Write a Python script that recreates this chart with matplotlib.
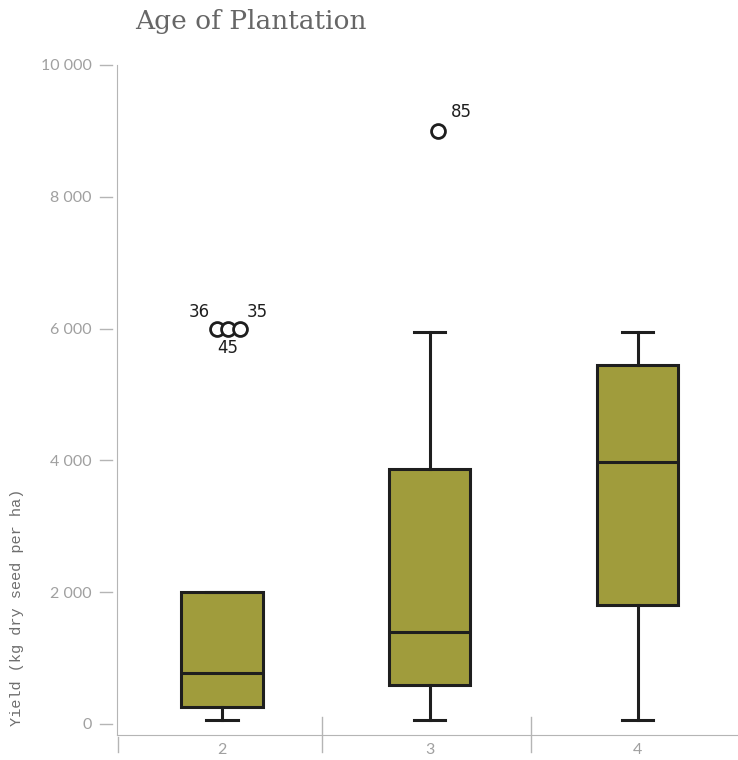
import matplotlib
matplotlib.use("Agg")
import matplotlib.pyplot as plt
import matplotlib.transforms as mtransforms

# data
ages = ["2", "3", "4"]
whislo = [60, 60, 60]
q1 = [260, 590, 1800]
med = [780, 1400, 3970]
q3 = [2000, 3870, 5450]
whishi = [2000, 5950, 5950]
outlier_vals = [[6000, 6000, 6000], [9000], []]
outlier_ids = [["36", "45", "35"], ["85"], []]

yticks = [0, 2000, 4000, 6000, 8000, 10000]
ytick_labels = ["0", "2 000", "4 000", "6 000", "8 000", "10 000"]

box_color = "#a09c3c"
line_color = "#1e1e1e"
axis_grey = "#b5b5b5"
text_grey = "#a0a0a0"

fig = plt.figure(figsize=(7.38, 7.6), dpi=100)
ax = fig.add_axes([117 / 738, 25 / 760, 1 - 117 / 738, 670 / 760])

stats = []
for i in range(len(ages)):
    stats.append({"whislo": whislo[i], "q1": q1[i], "med": med[i],
                  "q3": q3[i], "whishi": whishi[i], "fliers": [], "label": ages[i]})

ax.bxp(stats, positions=[1, 2, 3], widths=0.39, capwidths=0.15,
       showfliers=False, patch_artist=True,
       boxprops=dict(facecolor=box_color, edgecolor=line_color, linewidth=2.2),
       medianprops=dict(color=line_color, linewidth=2.2),
       whiskerprops=dict(color=line_color, linewidth=2.2),
       capprops=dict(color=line_color, linewidth=2.2))

# outliers, spread sideways when they overlap
for i, vals in enumerate(outlier_vals):
    n = len(vals)
    for j, v in enumerate(vals):
        x = i + 1 + (j - (n - 1) / 2) * 0.055 + (0.03 if n > 1 else 0.04)
        ax.plot(x, v, "o", ms=10, mfc="white", mec=line_color, mew=2, zorder=5)
    if n == 3:
        xc = i + 1 + 0.03
        ax.text(xc - 0.055 - 0.035, vals[0] + 120, outlier_ids[i][0], ha="right", va="bottom", fontsize=12, color=line_color)
        ax.text(xc, vals[1] - 160, outlier_ids[i][1], ha="center", va="top", fontsize=12, color=line_color)
        ax.text(xc + 0.055 + 0.035, vals[2] + 120, outlier_ids[i][2], ha="left", va="bottom", fontsize=12, color=line_color)
    elif n == 1:
        ax.text(i + 1 + 0.04 + 0.06, vals[0] + 150, outlier_ids[i][0], ha="left", va="bottom", fontsize=12, color=line_color)

ax.set_xlim(0.495, 3.482)
ax.set_ylim(-167, 10000)

for s in ["top", "right"]:
    ax.spines[s].set_visible(False)
ax.spines["left"].set_color(axis_grey)
ax.spines["bottom"].set_color(axis_grey)

ax.set_yticks(yticks)
ax.set_yticklabels(ytick_labels, fontsize=11.5, color=text_grey, family="Lato")
ax.tick_params(axis="y", length=0, pad=18)
ax.set_xticks([1, 2, 3])
ax.set_xticklabels(ages, fontsize=11.5, color=text_grey, family="Lato")
ax.tick_params(axis="x", length=0, pad=6)

# short y tick marks, detached from the axis
ty = mtransforms.blended_transform_factory(ax.transAxes, ax.transData)
for v in yticks:
    ax.plot([-17 / 621, -5 / 621], [v, v], color=axis_grey, lw=1, transform=ty, clip_on=False)

# category separators on the x axis
tx = mtransforms.blended_transform_factory(ax.transData, ax.transAxes)
ax.plot([0.5, 0.5], [-0.003, -0.025], color=axis_grey, lw=1, transform=tx, clip_on=False)
for b in [1.48, 2.485]:
    ax.plot([b, b], [0.027, -0.025], color=axis_grey, lw=1, transform=tx, clip_on=False)

ax.set_ylabel("Yield (kg dry seed per ha)", family="Liberation Mono", fontsize=11, color="#6e6e6e")
ax.yaxis.set_label_coords(-0.15, 0.19)

fig.text(135 / 738, 1 - 22 / 760, "Age of Plantation", family="DejaVu Serif",
         fontsize=19, color="#666666", ha="left", va="center")

fig.savefig("out.png", dpi=100)
